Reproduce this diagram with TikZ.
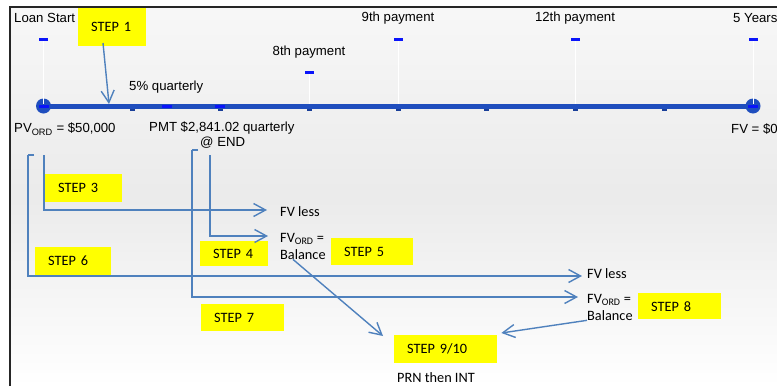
\documentclass[tikz,border=0pt]{standalone}
\usepackage{fontspec}
\setmainfont{Liberation Sans}
\newfontfamily\stepfont{Carlito}
\usetikzlibrary{arrows.meta,calc,positioning}
\definecolor{LineBlue}{RGB}{31,78,190}
\definecolor{DashBlue}{RGB}{10,20,250}
\definecolor{ArrowBlue}{RGB}{79,129,189}
\definecolor{StepYellow}{RGB}{255,255,0}
\tikzset{
	toplabel/.style={font=\fontsize{13.2}{15}\selectfont, inner sep=0pt},
	lowlabel/.style={font=\stepfont\fontsize{14.3}{17}\selectfont, inner sep=0pt, align=left},
	stepbox/.style={fill=StepYellow, anchor=north west, inner xsep=13pt, inner ysep=0pt,
		align=left, font=\stepfont\fontsize{14.3}{16}\selectfont},
	steparrow/.style={ArrowBlue, line width=1.4pt, -{Straight Barb[length=12pt,width=13pt,line width=1.4pt]}},
	bracket/.style={ArrowBlue, line width=1.4pt}
}

\begin{document}
\begin{tikzpicture}[x=1pt, y=-1pt]
		\useasboundingbox (0,0) rectangle (777,386);
		% background and frame
		\shade[top color=white!97!black, bottom color=white, middle color=white!92!black] (10,7) rectangle (777,386);
		\draw[line width=2pt, black!85] (10,386) -- (10,7) -- (777,7);
		% timeline
		\coordinate (T0) at (43.5,106);
		\coordinate (T8) at (753,106);
		\foreach \k in {1,...,7}
		\fill[LineBlue!80!black] ($(T0)!\k/8!(T8)$) ++(-2.5,0) rectangle ++(5,4.5);
		\draw[LineBlue, line width=5pt] (T0) -- (T8);
		\fill[LineBlue] (T0) circle (7.5pt) (T8) circle (7.5pt);
		% payment markers
		\foreach \x/\y in {43.5/39, 398/39, 575/39, 753/39, 309/72}
		{\draw[white, line width=0.6pt] (\x,\y) -- (\x,104);
		 \fill[DashBlue] (\x-4.5,\y-1.5) rectangle (\x+4.5,\y+1.5);}
		\foreach \x in {43.5, 167, 220, 753}
		\fill[DashBlue] (\x-5,104.5) rectangle (\x+5,107.5);
		% labels
		\node[toplabel, anchor=west] (loan) at (14,18) {Loan Start};
		\node[toplabel] (pay9) at (398,18) {9th payment};
		\node[toplabel] (pay12) at (575,18) {12th payment};
		\node[toplabel, anchor=west] (years) at (733,18) {5 Years};
		\node[toplabel] (pay8) at (309,52) {8th payment};
		\node[toplabel, anchor=west] (rate) at (129,87) {5\% quarterly};
		\node[toplabel, anchor=west] (pv) at (14,129) {PV\textsubscript{ORD} = \$50,000};
		\node[toplabel, anchor=west] (pmt) at (149,128) {PMT \$2,841.02 quarterly};
		\node[toplabel, anchor=west] (atend) at (200,143) {@ END};
		\node[toplabel, anchor=west] (fv) at (731,129) {FV = \$0};
		\node[lowlabel, anchor=west] (lessA) at (280,212) {FV less};
		\node[lowlabel, anchor=west] (balA) at (280,246) {FV\textsubscript{ORD} =\\Balance};
		\node[lowlabel, anchor=west] (lessB) at (587,274) {FV less};
		\node[lowlabel, anchor=west] (balB) at (587,307) {FV\textsubscript{ORD} =\\Balance};
		\node[lowlabel, anchor=west] (prn) at (397,378) {PRN then INT};
		% steps
		\node[stepbox, text width=42pt, minimum height=38pt] (s1) at (78,8) {STEP 1};
		\node[stepbox, text width=51pt, minimum height=28pt] (s3) at (45,174) {STEP 3};
		\node[stepbox, text width=50pt, minimum height=28pt] (s6) at (35,247) {STEP 6};
		\node[stepbox, text width=42pt, minimum height=25pt] (s4) at (200,241) {STEP 4};
		\node[stepbox, text width=56pt, minimum height=27pt] (s5) at (331,238) {STEP 5};
		\node[stepbox, text width=57pt, minimum height=27pt] (s7) at (201,304) {STEP 7};
		\node[stepbox, text width=57pt, minimum height=26pt] (s8) at (638,293) {STEP 8};
		\node[stepbox, text width=77pt, minimum height=28pt] (s9) at (394,335) {STEP 9/10};
		% arrows
		\coordinate (a1) at (103,43);
		\coordinate (a1e) at (109,104);
		\draw[steparrow] (a1) -- (a1e);
		\draw[bracket] (34,155) -- (28,155) coordinate (b6);
		\draw[steparrow] (b6) -- (28,276) -- ([xshift=-5pt]lessB.west |- 0,276);
		\draw[steparrow] (44,155) -- (44,210) -- ([xshift=-13pt]lessA.west |- 0,210);
		\draw[bracket] (198,150) -- (192,150) coordinate (b7);
		\draw[steparrow] (b7) -- (192,297) -- ([xshift=-9pt]balB.west |- 0,297);
		\draw[steparrow] (210,155) -- (210,236) -- ([xshift=-12pt]balA.west |- 0,236);
		\draw[steparrow] ([xshift=-10pt]balA.south) -- ([shift={(-11pt,-1pt)}]s9.north west);
		\draw[steparrow] (balB.south west) -- ([shift={(4pt,2pt)}]s9.north east);
	\end{tikzpicture}
\end{document}
